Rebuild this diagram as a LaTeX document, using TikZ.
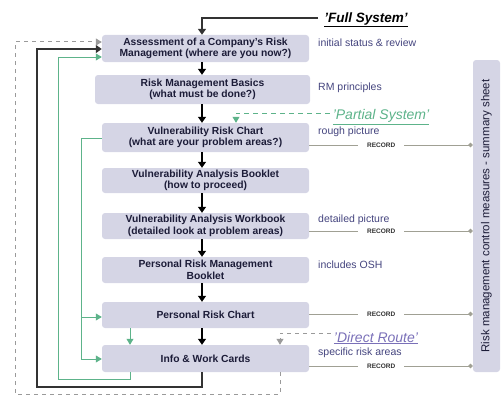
\documentclass[tikz,border=0pt]{standalone}
\usepackage{fontspec}
\setmainfont{Liberation Sans}
\usetikzlibrary{arrows.meta,calc}
\definecolor{boxfill}{HTML}{D5D5E5}
\definecolor{boxtext}{HTML}{1C1C38}
\definecolor{sidetext}{HTML}{44447E}
\definecolor{grn}{HTML}{5DB38A}
\definecolor{purp}{HTML}{7A70B8}
\definecolor{dgray}{HTML}{9A9A9A}
\definecolor{loopc}{HTML}{333333}
\definecolor{recc}{HTML}{A0A094}
\begin{document}
\begin{tikzpicture}[x=1pt,y=-1pt,
  box/.style={fill=boxfill, rounded corners=3pt, font=\bfseries\fontsize{10.3}{11.5}\selectfont, text=boxtext, align=center, inner sep=0pt, minimum width=207pt},
  side/.style={anchor=west, font=\fontsize{10.5}{12}\selectfont, text=sidetext, inner sep=0pt},
  sumbox/.style={fill=boxfill, rounded corners=3pt, rotate=90, font=\fontsize{11.5}{13}\selectfont, text=boxtext, inner sep=0pt, minimum width=312pt, minimum height=27pt},
  title/.style={font=\itshape\fontsize{14}{16}\selectfont, inner sep=0pt},
  down/.style={draw=black, line width=1.3pt, -{Triangle[width=8pt,length=6pt]}},
  blk/.style={draw=loopc, line width=1.8pt, -{Triangle[width=8pt,length=6pt]}},
  gline/.style={draw=grn, line width=0.7pt, -{Triangle[width=7pt,length=6pt,fill=grn]}},
  gdash/.style={draw=grn, line width=0.8pt, dash pattern=on 5pt off 4pt, -{Triangle[width=7pt,length=6pt,fill=grn]}},
  ddash/.style={draw=dgray, line width=1pt, dash pattern=on 4pt off 4pt, -{Triangle[width=7pt,length=6pt,fill=dgray]}},
  rec/.style={draw=recc, line width=0.8pt, -{Circle[length=4.5pt]}},
  recl/.style={fill=white, font=\bfseries\fontsize{6.5}{7}\selectfont, text=black!80, inner xsep=9pt, inner ysep=1pt, pos=0.44}
]
\useasboundingbox (0,0) rectangle (502,396);
\coordinate (ax) at (202,0);

% main boxes
\node[box, minimum height=27pt] (b1) at (205.5,48.5) {Assessment of a Company's Risk\\Management (where are you now?)};
\node[box, minimum height=29pt, minimum width=215pt] (b2) at (202.5,89.5) {Risk Management Basics\\(what must be done?)};
\node[box, minimum height=29pt] (b3) at (205.5,137.5) {Vulnerability Risk Chart\\(what are your problem areas?)};
\node[box, minimum height=25pt] (b4) at (205.5,180.5) {Vulnerability Analysis Booklet\\(how to proceed)};
\node[box, minimum height=26pt] (b5) at (205.5,226) {Vulnerability Analysis Workbook\\(detailed look at problem areas)};
\node[box, minimum height=26pt] (b6) at (205.5,270) {Personal Risk Management\\Booklet};
\node[box, minimum height=26pt] (b7) at (205.5,315) {Personal Risk Chart};
\node[box, minimum height=27pt] (b8) at (205.5,358.5) {Info \& Work Cards};

% summary box
\node[sumbox] (sum) at (486.5,216) {Risk management control measures - summary sheet};

% side labels
\node[side] (s1) at (318,43) {initial status \& review};
\node[side] (s2) at (318,88) {RM principles};
\node[side] (s3) at (318,132) {rough picture};
\node[side] (s5) at (318,220) {detailed picture};
\node[side] (s6) at (318,265) {includes OSH};
\node[side] (s8) at (318,353) {specific risk areas};

% route titles
\node[title, font=\bfseries\itshape\fontsize{13.5}{16}\selectfont, text=black] (fl) at (366,20) {\underline{'Full System'}};
\node[title, text=grn] (pl) at (381,117) {\underline{'Partial System'}};
\node[title, text=purp] (dl) at (376,338) {\underline{'Direct Route'}};

% vertical arrows
\draw[down] (b1.south -| ax) -- (b2.north -| ax);
\draw[down] (b2.south -| ax) -- (b3.north -| ax);
\draw[down] (b3.south -| ax) -- (b4.north -| ax);
\draw[down] (b4.south -| ax) -- (b5.north -| ax);
\draw[down] (b5.south -| ax) -- (b6.north -| ax);
\draw[down] (b6.south -| ax) -- (b7.north -| ax);
\draw[down] (b7.south -| ax) -- (b8.north -| ax);

% full system entry
\draw[blk] ($(fl.west |- 0,18)+(-6,0)$) -| (b1.north -| ax);

% record arrows
\draw[rec] (b3.east |- 0,145) -- node[recl] {RECORD} (sum.north |- 0,145);
\draw[rec] (b5.east |- 0,231) -- node[recl] {RECORD} (sum.north |- 0,231);
\draw[rec] (b7.east |- 0,314) -- node[recl] {RECORD} (sum.north |- 0,314);
\draw[rec] (b8.east |- 0,366) -- node[recl] {RECORD} (sum.north |- 0,366);

% black feedback loop
\draw[blk] (b8.south -| ax) -- (202,387) -- (37,387) -- (37,49) -- (b1.west |- 0,49);

% grey dashed loop (direct route)
\draw[ddash] ($(dl.west |- 0,333)+(-3,0)$) -| (b8.north -| 280,0);
\draw[ddash] (b8.south -| 280,0) -- (280,394) -- (15,394) -- (15,42) -- (b1.west |- 0,42);

% green partial system
\draw[gdash] ($(pl.west |- 0,113)+(-3,0)$) -| (b3.north -| 236,0);
\draw[gline] (b3.west |- 0,138) -- (81,138) -- (81,359) -- (b8.west |- 0,359);
\draw[gline] (81,317) -- (b7.west |- 0,317);
\draw[gline] (b7.south -| 130,0) -- (b8.north -| 130,0);
\draw[gline] (b8.south -| 130,0) -- (130,379) -- (58,379) -- (58,57) -- (b1.west |- 0,57);
\end{tikzpicture}
\end{document}
